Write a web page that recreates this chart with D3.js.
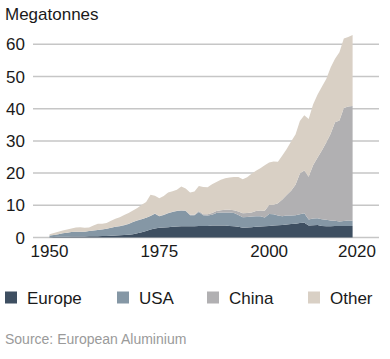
<!DOCTYPE html>
<html>
<head>
<meta charset="utf-8">
<script src="https://cdn.jsdelivr.net/npm/d3@7/dist/d3.min.js"></script>
<style>
  html, body { margin: 0; padding: 0; background: #fff; }
  svg { display: block; font-family: "Liberation Sans", Arial, sans-serif; }
</style>
</head>
<body>
<svg id="chart" width="390" height="359"></svg>
<script>
const years = d3.range(1950, 2020);
const europe = [0.1,0.15,0.2,0.2,0.25,0.3,0.3,0.3,0.3,0.35,
  0.4,0.4,0.45,0.5,0.55,0.6,0.7,0.75,0.85,1.0,
  1.3,1.6,2.0,2.5,2.8,3.0,3.1,3.2,3.3,3.4,
  3.5,3.5,3.5,3.5,3.6,3.6,3.6,3.7,3.7,3.7,
  3.7,3.6,3.5,3.3,3.0,3.1,3.2,3.3,3.4,3.5,
  3.6,3.7,3.8,3.9,4.0,4.2,4.3,4.5,4.6,3.7,
  3.8,3.9,3.6,3.5,3.5,3.6,3.6,3.6,3.6,3.6];
const usa = [0.5,0.65,0.8,1.1,1.25,1.4,1.5,1.5,1.5,1.65,
  1.8,1.9,2.05,2.2,2.45,2.7,2.8,3.05,3.35,3.8,
  4.0,4.1,4.1,4.2,4.6,3.6,3.9,4.3,4.6,4.8,
  4.8,4.7,3.4,3.4,4.3,3.3,3.2,3.4,3.9,4.1,
  4.1,4.2,4.1,3.7,3.3,3.3,3.3,3.3,3.2,2.7,
  3.7,3.5,3.0,2.7,2.8,2.6,2.6,2.7,2.9,1.9,
  2.1,2.1,2.1,2.0,1.8,1.6,1.4,1.5,1.7,1.6];
const china = [0,0,0,0,0,0,0,0,0,0,
  0,0.05,0.05,0.05,0.05,0.05,0.05,0.05,0.05,0.05,
  0.05,0.05,0.05,0.05,0.05,0.05,0.1,0.1,0.1,0.1,
  0.2,0.2,0.2,0.2,0.3,0.3,0.4,0.5,0.6,0.7,
  0.8,0.8,0.9,1.1,1.2,1.2,1.3,1.6,1.8,2.1,
  2.8,3.0,3.8,5.2,6.4,7.7,9.5,12.7,13.3,13.3,
  16.5,18.8,21.3,24.0,26.9,30.6,31.3,35.1,35.4,35.6];
const other = [0.4,0.6,0.8,0.9,1.0,1.1,1.3,1.4,1.2,1.1,
  1.5,1.95,1.75,1.75,2.15,2.45,2.75,3.15,3.35,3.55,
  3.85,4.45,4.85,6.55,5.55,5.55,5.8,6.4,6.4,6.5,
  7.3,6.8,6.9,7.2,7.8,8.5,8.4,8.9,9.0,9.4,
  9.8,10.0,10.3,10.7,10.6,11.1,12.0,12.5,13.1,14.1,
  13.2,13.4,12.9,13.7,14.3,15.3,15.6,16.3,17.2,17.9,
  18.9,19.5,19.8,19.7,20.6,19.7,21.2,21.6,21.6,22.1];
const seriesNames = ["Europe", "USA", "China", "Other"];
const seriesColors = ["#3e4f61", "#8597a5", "#b1b0b2", "#d9d0c5"];
const yTicks = [0, 10, 20, 30, 40, 50, 60];
const xTicks = [1950, 1975, 2000, 2020];

const table = years.map((yr, i) => ({
  year: yr, Europe: europe[i], USA: usa[i], China: china[i], Other: other[i]
}));

const svg = d3.select("#chart");
const x = d3.scaleLinear().domain([1950, 2020]).range([49.5, 357]);
const y = d3.scaleLinear().domain([0, 60]).range([237.5, 44.3]);

// grid
svg.append("g").selectAll("line").data(yTicks).join("line")
  .attr("x1", 33).attr("x2", 379)
  .attr("y1", d => y(d)).attr("y2", d => y(d))
  .attr("stroke", "#c6c6c6").attr("stroke-width", 1.5);

// y labels
svg.append("g").selectAll("text").data(yTicks).join("text")
  .attr("x", 25).attr("y", d => y(d)).attr("dy", "0.36em")
  .attr("text-anchor", "end").attr("font-size", 17).attr("fill", "#1a1a1a")
  .text(d => d);

// x labels
svg.append("g").selectAll("text").data(xTicks).join("text")
  .attr("x", d => x(d)).attr("y", 256.5)
  .attr("text-anchor", "middle").attr("font-size", 17).attr("fill", "#1a1a1a")
  .text(d => d);

// title
svg.append("text").attr("x", 5).attr("y", 19.5)
  .attr("font-size", 17).attr("fill", "#1a1a1a").text("Megatonnes");

// stacked areas
const stack = d3.stack().keys(seriesNames);
const layers = stack(table);
const area = d3.area()
  .x(d => x(d.data.year))
  .y0(d => y(d[0]))
  .y1(d => y(d[1]));
svg.append("g").selectAll("path").data(layers).join("path")
  .attr("d", area)
  .attr("fill", (d, i) => seriesColors[i]);

// legend
const legendX = [5, 117, 207, 308];
const lg = svg.append("g");
seriesNames.forEach((name, i) => {
  lg.append("rect").attr("x", legendX[i]).attr("y", 291.5)
    .attr("width", 12).attr("height", 12).attr("fill", seriesColors[i]);
  lg.append("text").attr("x", legendX[i] + 22).attr("y", 304)
    .attr("font-size", 17).attr("fill", "#1a1a1a").text(name);
});

// source
svg.append("text").attr("x", 5).attr("y", 344)
  .attr("font-size", 14).attr("fill", "#9a9a9a").text("Source: European Aluminium");
</script>
</body>
</html>
